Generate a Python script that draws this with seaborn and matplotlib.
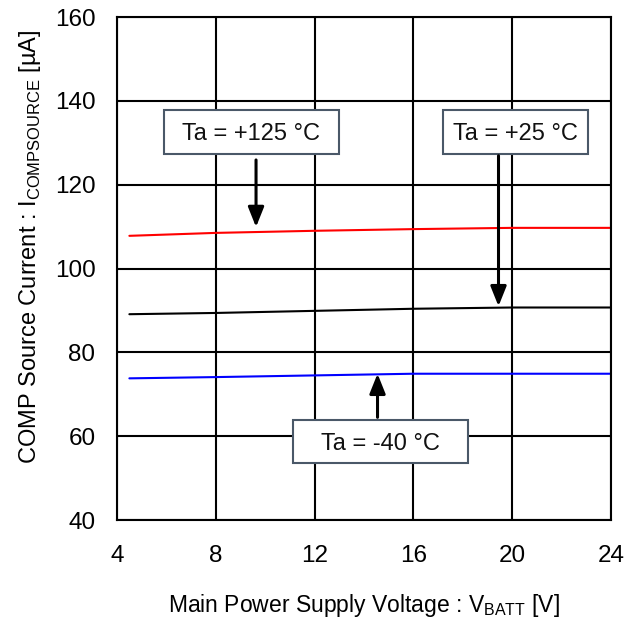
import matplotlib
matplotlib.use("Agg")
import matplotlib.pyplot as plt
from matplotlib.patches import Rectangle
import seaborn as sns
import pandas as pd

voltage = [4.5, 8, 12, 16, 20, 24]
i_125 = [107.8, 108.5, 109.0, 109.4, 109.7, 109.7]
i_25 = [89.1, 89.4, 89.9, 90.4, 90.7, 90.7]
i_m40 = [73.8, 74.1, 74.5, 74.9, 74.9, 74.9]

labels = ["Ta = +125 °C", "Ta = +25 °C", "Ta = -40 °C"]
colors = ["#ff0000", "#000000", "#0000ff"]

x_ticks = [4, 8, 12, 16, 20, 24]
y_ticks = [40, 60, 80, 100, 120, 140, 160]

rows = []
for lab, vals in zip(labels, [i_125, i_25, i_m40]):
    for v, y in zip(voltage, vals):
        rows.append({"V": v, "I": y, "T": lab})
df = pd.DataFrame(rows)

sns.set_theme(style="white")
plt.rcParams['font.family'] = ['Liberation Sans', 'DejaVu Sans']
plt.rcParams['mathtext.fontset'] = 'custom'
plt.rcParams['mathtext.rm'] = 'Liberation Sans'

fig = plt.figure(figsize=(6.43, 6.21), dpi=100)
ax = fig.add_axes([0.182, 0.1626, 0.768, 0.81])

sns.lineplot(data=df, x="V", y="I", hue="T", palette=colors, hue_order=labels,
             ax=ax, legend=False, linewidth=1.5)

ax.set_xlim(4, 24)
ax.set_ylim(40, 160)
ax.set_xticks(x_ticks)
ax.set_yticks(y_ticks)
ax.tick_params(axis='both', labelsize=17.5, length=0, colors='black')
ax.tick_params(axis='x', pad=18)
ax.tick_params(axis='y', pad=15.5)
ax.grid(True, color='black', linewidth=1.5)
for s in ax.spines.values():
    s.set_color('black')
    s.set_linewidth(1.5)

ax.set_xlabel("Main Power Supply Voltage : V$_{\\mathregular{BATT}}$ [V]", fontsize=16.5, labelpad=18, color='black')
ax.set_ylabel("COMP Source Current : I$_{\\mathregular{COMPSOURCE}}$ [µA]", fontsize=17, color='black')
ax.yaxis.set_label_coords(-0.150, 0.543)

edge = "#4a5868"
arrow = dict(arrowstyle="-|>,head_width=0.4,head_length=1.0", color="black", lw=2.2, shrinkA=0, shrinkB=0)

def box(x0, x1, y0, y1, text):
    ax.add_patch(Rectangle((x0, y0), x1 - x0, y1 - y0, facecolor="white",
                           edgecolor=edge, linewidth=1.5, zorder=5))
    ax.text((x0 + x1) / 2, (y0 + y1) / 2, text, fontsize=17, ha='center',
            va='center_baseline', zorder=6, color='#111111')

# +125
box(5.90, 12.99, 127.4, 137.9, labels[0])
ax.annotate("", xy=(9.63, 109.9), xytext=(9.63, 125.9), arrowprops=arrow, zorder=5)
# +25
box(17.20, 23.07, 127.4, 137.9, labels[1])
ax.annotate("", xy=(19.45, 91.0), xytext=(19.45, 126.9), arrowprops=arrow, zorder=5)
# -40
box(11.12, 18.21, 53.6, 63.9, labels[2])
ax.annotate("", xy=(14.55, 74.9), xytext=(14.55, 64.5), arrowprops=arrow, zorder=5)

fig.savefig("out.png", dpi=100)
